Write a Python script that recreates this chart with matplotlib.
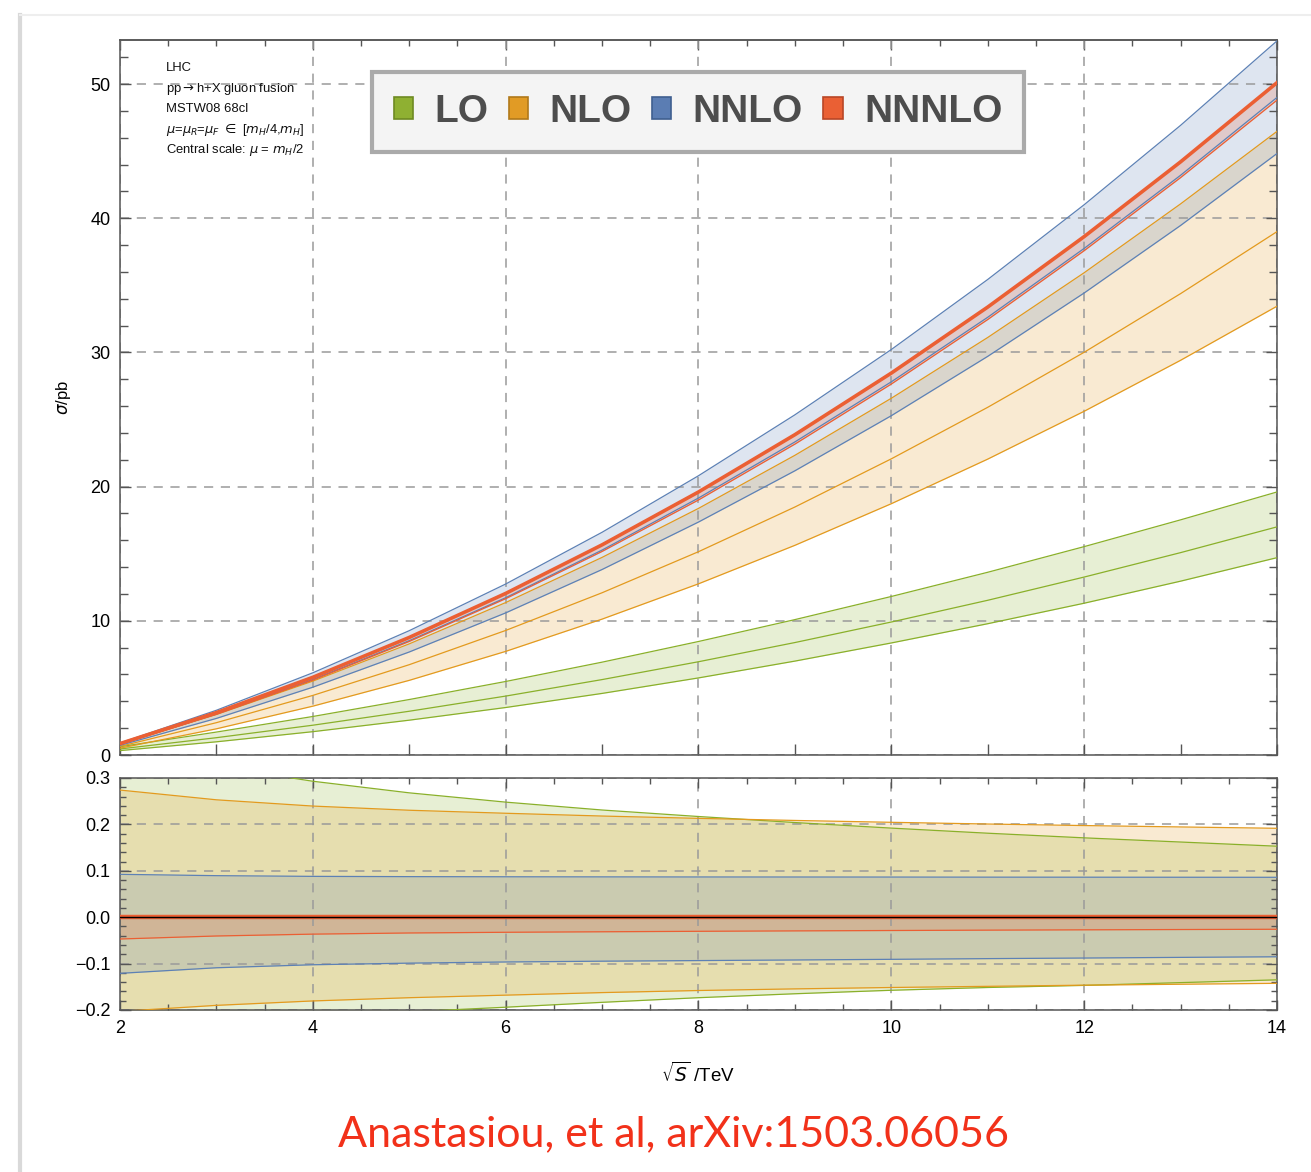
import numpy as np
import matplotlib.pyplot as plt
from matplotlib.ticker import MultipleLocator, NullFormatter, FuncFormatter
from matplotlib.patches import Patch
from matplotlib.lines import Line2D

plt.rcParams['font.family'] = ['Liberation Sans', 'DejaVu Sans']
plt.rcParams['mathtext.fontset'] = 'dejavusans'

# collider energy sqrt(S) in TeV
energy = [2, 3, 4, 5, 6, 7, 8, 9, 10, 11, 12, 13, 14]

# central cross sections (mu = mH/2), pb
lo_central = [0.45, 1.29, 2.22, 3.26, 4.39, 5.62, 6.95, 8.38, 9.91, 11.53, 13.26, 15.08, 17.0]
nlo_central = [0.64, 2.41, 4.44, 6.73, 9.28, 12.09, 15.15, 18.48, 22.07, 25.91, 30.01, 34.38, 39.0]
nnlo_central = [0.82, 3.06, 5.63, 8.52, 11.72, 15.27, 19.15, 23.33, 27.81, 32.62, 37.75, 43.2, 49.0]
n3lo_central = [0.85, 3.16, 5.79, 8.76, 12.04, 15.66, 19.6, 23.87, 28.46, 33.38, 38.63, 44.2, 50.1]

# relative scale variation, mu in [mH/4, mH]
lo_up = [0.37, 0.325, 0.293, 0.268, 0.248, 0.231, 0.217, 0.204, 0.192, 0.181, 0.171, 0.162, 0.153]
lo_dn = [-0.27, -0.238, -0.217, -0.204, -0.194, -0.1835, -0.1735, -0.165, -0.1575, -0.1515, -0.147, -0.141, -0.135]
nlo_up = [0.274, 0.253, 0.2395, 0.2305, 0.224, 0.218, 0.213, 0.2085, 0.2045, 0.2008, 0.1975, 0.1945, 0.1916]
nlo_dn = [-0.203, -0.19, -0.1805, -0.1735, -0.168, -0.1625, -0.158, -0.1545, -0.1515, -0.149, -0.1465, -0.1445, -0.1425]
nnlo_up = [0.0924, 0.0895, 0.088, 0.0874, 0.0871, 0.0869, 0.0867, 0.0866, 0.0865, 0.0863, 0.0862, 0.0861, 0.086]
nnlo_dn = [-0.121, -0.109, -0.1025, -0.099, -0.0965, -0.0948, -0.0935, -0.0922, -0.0908, -0.0893, -0.088, -0.0866, -0.0853]
n3lo_up = [0, 0, 0, 0, 0, 0, 0, 0, 0, 0, 0, 0, 0]
n3lo_dn = [-0.047, -0.0405, -0.0365, -0.034, -0.0325, -0.0314, -0.0304, -0.0295, -0.0287, -0.0279, -0.0272, -0.0266, -0.026]

orders = ['LO', 'NLO', 'NNLO', 'NNNLO']
centrals = [lo_central, nlo_central, nnlo_central, n3lo_central]
ups = [lo_up, nlo_up, nnlo_up, n3lo_up]
dns = [lo_dn, nlo_dn, nnlo_dn, n3lo_dn]
line_colors = ['#8AB02A', '#E39A1E', '#5D81B5', '#EB5F33']
legend_colors = ['#8FB032', '#E19B25', '#5B7DB3', '#EA6034']
legend_edges = ['#6E8A22', '#B0791A', '#3F5F90', '#B84626']

info_lines = ['LHC',
              r'pp$\rightarrow$h+X gluon fusion',
              'MSTW08 68cl',
              r'$\mu$=$\mu_R$=$\mu_F$ $\in$ [$m_H$/4,$m_H$]',
              r'Central scale: $\mu$ = $m_H$/2']

fig = plt.figure(figsize=(13.11, 11.72), dpi=100)
ax = fig.add_axes([0.09153, 0.35580, 0.88253, 0.61007])
ax2 = fig.add_axes([0.09153, 0.13823, 0.88253, 0.19795])

x = np.array(energy)
for name, c, up, dn, col in zip(orders, centrals, ups, dns, line_colors):
    c = np.array(c)
    hi = c * (1 + np.array(up))
    lo = c * (1 + np.array(dn))
    # main panel: absolute cross section band
    ax.fill_between(x, lo, hi, color=col, alpha=0.2, lw=0, zorder=1)
    ax.plot(x, hi, color=col, lw=0.9, zorder=3)
    ax.plot(x, lo, color=col, lw=0.9, zorder=3)
    if name == 'NNNLO':
        ax.plot(x, c, color=col, lw=2.6, zorder=4)
    else:
        ax.plot(x, c, color=col, lw=0.9, zorder=3)
    # ratio panel: band relative to its own central value
    ax2.fill_between(x, dn, up, color=col, alpha=0.2, lw=0, zorder=1)
    ax2.plot(x, up, color=col, lw=0.9, zorder=3)
    ax2.plot(x, dn, color=col, lw=0.9, zorder=3)

ax2.axhline(0, color=line_colors[3], lw=3.2, zorder=4)
ax2.axhline(0, color='black', lw=1.0, zorder=5)

grid_style = dict(color='#9a9a9a', ls=(0, (6, 5)), lw=1.1)
spine_col = '#555555'

for a in (ax, ax2):
    a.set_xlim(2, 14)
    a.grid(True, which='major', **grid_style)
    for s in a.spines.values():
        s.set_color(spine_col)
        s.set_linewidth(1.1)
    a.tick_params(which='both', direction='in', color=spine_col, width=1.0,
                  labelsize=13, pad=7)
    a.tick_params(which='major', length=8)
    a.tick_params(which='minor', length=4.5)

# main panel
ax.set_ylim(0, 53.28)
ax.xaxis.set_major_locator(MultipleLocator(2))
ax.xaxis.set_minor_locator(MultipleLocator(1))
ax.xaxis.set_major_formatter(NullFormatter())
ax.tick_params(axis='x', which='minor', length=8)
ax.tick_params(axis='x', top=False)
ax.yaxis.set_major_locator(MultipleLocator(10))
ax.yaxis.set_minor_locator(MultipleLocator(2))
ax.tick_params(axis='y', which='both', right=True)
ax.tick_params(axis='y', which='minor', length=5.5)
top = ax.secondary_xaxis('top')
top.xaxis.set_major_locator(MultipleLocator(2))
top.xaxis.set_minor_locator(MultipleLocator(0.5))
top.xaxis.set_major_formatter(NullFormatter())
top.tick_params(which='both', direction='in', color=spine_col, width=1.0)
top.tick_params(which='major', length=7)
top.tick_params(which='minor', length=4)
top.spines['top'].set_color(spine_col)
top.spines['top'].set_linewidth(1.1)

ax.set_ylabel(r'$\sigma$/pb', fontsize=12)
ax.yaxis.set_label_coords(-0.041, 0.5)

for i, t in enumerate(info_lines):
    ax.text(0.0398, 0.9608 - i * 0.0287, t, transform=ax.transAxes,
            fontsize=9.4, va='center', ha='left', color='#111111')

handles = [Patch(facecolor=fc, edgecolor=ec, lw=1.2) for fc, ec in zip(legend_colors, legend_edges)]
leg = ax.legend(handles, orders, ncol=4, loc='upper left',
                bbox_to_anchor=(372 / 1311, 1 - 72 / 1172), bbox_transform=fig.transFigure,
                prop={'weight': 'bold', 'size': 28}, labelcolor='#4d4d4d',
                frameon=True, fancybox=False, edgecolor='#aaaaaa', facecolor='#f4f4f4',
                framealpha=1, handlelength=0.5, handleheight=0.5, handletextpad=0.55,
                columnspacing=0.52, borderpad=0.56, borderaxespad=0)
leg.get_frame().set_linewidth(3)
leg.set_zorder(10)

# ratio panel
ax2.set_ylim(-0.2, 0.3)
ax2.xaxis.set_major_locator(MultipleLocator(2))
ax2.xaxis.set_minor_locator(MultipleLocator(0.5))
ax2.yaxis.set_major_locator(MultipleLocator(0.1))
ax2.yaxis.set_minor_locator(MultipleLocator(0.02))
ax2.yaxis.set_major_formatter(FuncFormatter(lambda v, p: ('%.1f' % v).replace('-', '\u2212')))
ax2.tick_params(which='both', top=True, right=True)
ax2.tick_params(axis='x', which='major', length=7)
ax2.set_xlabel(r'$\sqrt{S}$ /TeV', fontsize=13.5)
ax2.xaxis.set_label_coords(0.5, -0.225)

# slide frame
fig.add_artist(Line2D([20 / 1311, 20 / 1311], [0, 1 - 15 / 1172], color='#d9d9d9', lw=3,
                      transform=fig.transFigure))
fig.add_artist(Line2D([20 / 1311, 1], [1 - 15 / 1172, 1 - 15 / 1172], color='#eeeeee', lw=1.5,
                      transform=fig.transFigure))

fig.text(673 / 1311, 1 - 1146 / 1172, 'Anastasiou, et al, arXiv:1503.06056',
         color='#F2311A', fontsize=31, family='Lato', ha='center', va='baseline')

fig.savefig('out.png', dpi=100)
